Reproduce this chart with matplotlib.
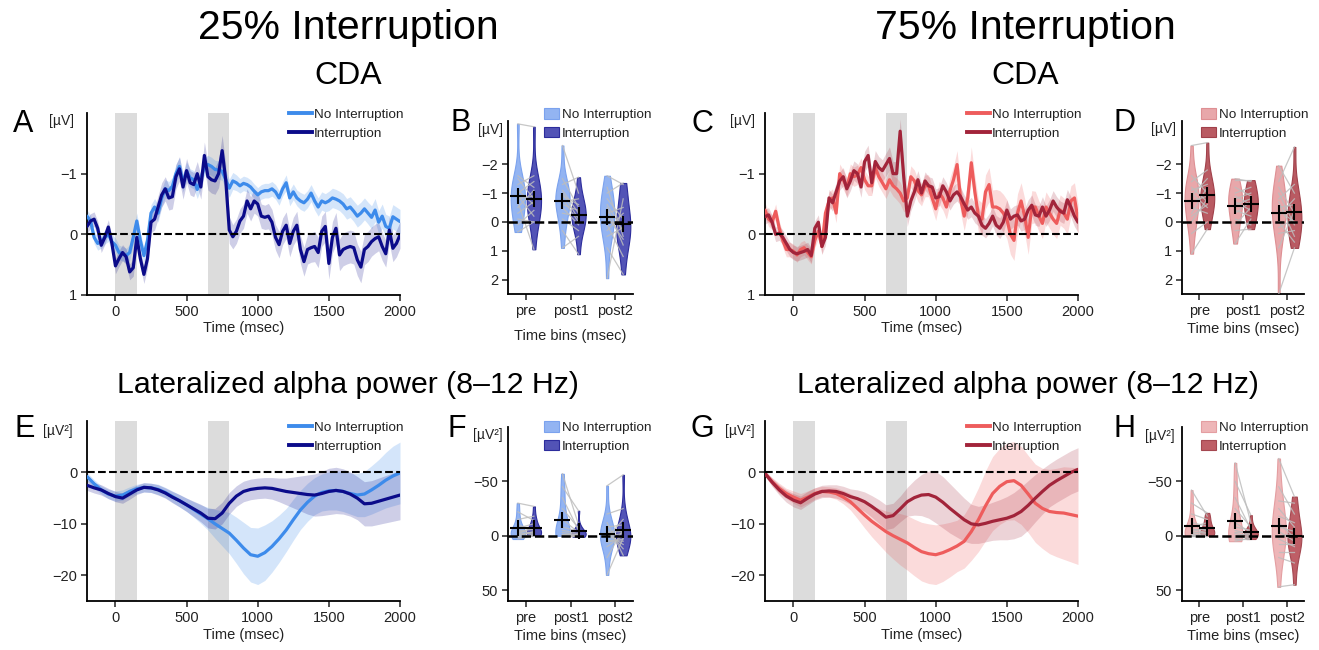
import numpy as np
import matplotlib
matplotlib.use('Agg')
import matplotlib.pyplot as plt
from matplotlib.patches import Patch
from matplotlib.lines import Line2D

plt.rcParams['font.family'] = ['Liberation Sans', 'DejaVu Sans']

# ---------------- DATA ----------------
conditions = ['No Interruption', 'Interruption']
bins = ['pre', 'post1', 'post2']

# CDA time courses, sampled every 25 ms from -200 to 2000 ms (values in µV)
cda25_no = [-0.30, -0.22, 0.05, 0.15, 0.12, 0.05, 0.00, 0.12,
            0.18, 0.30, 0.32, 0.35, 0.30, 0.05, -0.22, 0.10,
            0.35, 0.10, -0.35, -0.45, -0.35, -0.60, -0.75, -0.72,
            -0.79, -1.00, -1.12, -0.85, -1.04, -0.93, -0.90, -0.74,
            -0.90, -1.12, -1.15, -1.12, -1.07, -1.06, -1.04, -0.90,
            -0.76, -0.88, -0.85, -0.80, -0.84, -0.82, -0.78, -0.71,
            -0.65, -0.70, -0.72, -0.72, -0.75, -0.70, -0.60, -0.75,
            -0.85, -0.60, -0.70, -0.60, -0.55, -0.52, -0.58, -0.68,
            -0.55, -0.45, -0.55, -0.52, -0.55, -0.60, -0.58, -0.55,
            -0.50, -0.42, -0.45, -0.38, -0.30, -0.35, -0.42, -0.35,
            -0.28, -0.40, -0.20, -0.30, -0.13, -0.10, -0.29, -0.25,
            -0.21]
cda25_no_sem = [0.10, 0.10, 0.10, 0.11, 0.11, 0.11, 0.12, 0.12,
                0.12, 0.12, 0.12, 0.12, 0.13, 0.13, 0.13, 0.13,
                0.13, 0.13, 0.14, 0.14, 0.15, 0.15, 0.15, 0.15,
                0.15, 0.15, 0.15, 0.15, 0.15, 0.15, 0.15, 0.15,
                0.15, 0.15, 0.15, 0.15, 0.15, 0.15, 0.15, 0.15,
                0.15, 0.14, 0.13, 0.12, 0.12, 0.12, 0.12, 0.12,
                0.12, 0.12, 0.12, 0.12, 0.12, 0.12, 0.12, 0.12,
                0.13, 0.13, 0.13, 0.13, 0.14, 0.14, 0.14, 0.14,
                0.15, 0.15, 0.15, 0.15, 0.16, 0.16, 0.16, 0.16,
                0.17, 0.17, 0.17, 0.17, 0.18, 0.18, 0.18, 0.18,
                0.19, 0.19, 0.19, 0.20, 0.20, 0.20, 0.20, 0.20,
                0.20]
cda25_int = [-0.13, -0.22, -0.25, -0.10, 0.18, 0.05, -0.12, 0.15,
             0.52, 0.40, 0.30, 0.37, 0.62, 0.55, 0.05, 0.40,
             0.66, 0.40, -0.20, -0.25, -0.45, -0.65, -0.75, -0.60,
             -0.62, -0.95, -1.08, -0.78, -1.05, -0.85, -0.82, -1.00,
             -0.78, -1.30, -0.95, -0.90, -0.88, -1.00, -1.38, -0.90,
             -0.07, 0.04, -0.05, -0.22, -0.30, -0.55, -0.42, -0.55,
             -0.50, -0.30, -0.28, -0.30, -0.20, 0.05, 0.17, -0.05,
             -0.15, 0.15, -0.05, -0.15, 0.25, 0.45, 0.25, 0.22,
             0.20, 0.30, -0.05, -0.13, 0.48, 0.05, -0.10, 0.34,
             0.25, 0.22, 0.20, 0.22, 0.42, 0.54, 0.25, 0.20,
             0.12, 0.07, 0.04, 0.20, 0.32, -0.07, 0.23, 0.15,
             0.01]
cda25_int_sem = [0.12, 0.12, 0.12, 0.12, 0.12, 0.12, 0.12, 0.12,
                 0.13, 0.13, 0.13, 0.13, 0.13, 0.14, 0.14, 0.14,
                 0.15, 0.16, 0.17, 0.18, 0.19, 0.20, 0.20, 0.20,
                 0.20, 0.20, 0.20, 0.20, 0.20, 0.20, 0.20, 0.20,
                 0.20, 0.22, 0.22, 0.22, 0.22, 0.23, 0.25, 0.25,
                 0.22, 0.20, 0.20, 0.20, 0.20, 0.20, 0.20, 0.20,
                 0.20, 0.20, 0.20, 0.21, 0.21, 0.21, 0.22, 0.22,
                 0.22, 0.22, 0.23, 0.23, 0.23, 0.24, 0.24, 0.24,
                 0.25, 0.25, 0.25, 0.25, 0.26, 0.26, 0.26, 0.26,
                 0.27, 0.27, 0.27, 0.27, 0.26, 0.26, 0.25, 0.25,
                 0.24, 0.24, 0.23, 0.23, 0.22, 0.22, 0.22, 0.22,
                 0.22]

cda75_no = [-0.40, -0.25, -0.20, -0.38, -0.10, 0.10, 0.25, 0.25,
            0.28, 0.34, 0.25, 0.22, 0.30, 0.37, 0.10, -0.05,
            0.20, -0.35, -0.55, -0.60, -0.35, -1.00, -0.90, -0.78,
            -1.00, -0.95, -0.98, -1.10, -0.90, -0.80, -0.80, -1.10,
            -0.95, -0.85, -0.75, -0.90, -0.80, -0.75, -0.68, -0.55,
            -0.60, -0.95, -0.88, -0.72, -0.65, -0.80, -0.80, -0.60,
            -0.42, -0.68, -0.60, -0.45, -0.72, -0.90, -1.15, -0.58,
            -0.30, -0.60, -1.18, -0.70, -0.30, -0.25, -0.70, -0.82,
            -0.45, -0.45, -0.42, -0.35, -0.25, 0.00, 0.10, -0.35,
            -0.55, -0.30, 0.05, -0.45, -0.45, -0.30, -0.18, -0.45,
            -0.35, -0.25, -0.18, -0.40, -0.35, -0.25, -0.55, -0.60,
            -0.25]
cda75_no_sem = [0.12, 0.12, 0.12, 0.12, 0.12, 0.12, 0.12, 0.12,
                0.12, 0.12, 0.12, 0.12, 0.12, 0.12, 0.12, 0.12,
                0.13, 0.14, 0.15, 0.15, 0.16, 0.16, 0.16, 0.16,
                0.16, 0.16, 0.16, 0.16, 0.16, 0.16, 0.16, 0.16,
                0.16, 0.16, 0.16, 0.17, 0.17, 0.18, 0.18, 0.18,
                0.18, 0.18, 0.18, 0.18, 0.18, 0.18, 0.18, 0.18,
                0.19, 0.19, 0.20, 0.20, 0.21, 0.22, 0.23, 0.23,
                0.24, 0.25, 0.26, 0.26, 0.27, 0.27, 0.28, 0.28,
                0.28, 0.29, 0.30, 0.31, 0.32, 0.33, 0.33, 0.32,
                0.30, 0.29, 0.28, 0.27, 0.26, 0.25, 0.25, 0.25,
                0.25, 0.25, 0.25, 0.25, 0.25, 0.25, 0.25, 0.25,
                0.25]
cda75_int = [-0.29, -0.32, -0.20, 0.00, -0.02, 0.05, 0.15, 0.25,
             0.30, 0.32, 0.30, 0.28, 0.25, 0.35, -0.10, -0.20,
             0.20, 0.05, -0.60, -0.52, -0.70, -0.88, -0.95, -0.75,
             -0.88, -1.05, -1.00, -0.78, -1.20, -1.30, -0.85, -1.20,
             -1.10, -1.05, -1.15, -1.25, -1.00, -1.00, -1.70, -0.95,
             -0.30, -0.55, -0.70, -0.90, -0.68, -0.88, -0.80, -0.78,
             -0.60, -0.62, -0.80, -0.70, -0.55, -0.65, -0.70, -0.62,
             -0.50, -0.40, -0.45, -0.35, -0.30, -0.15, -0.10, -0.18,
             -0.30, -0.15, -0.10, -0.20, -0.40, -0.25, -0.30, -0.32,
             -0.22, -0.25, -0.40, -0.48, -0.32, -0.30, -0.45, -0.30,
             -0.40, -0.55, -0.45, -0.38, -0.35, -0.57, -0.45, -0.30,
             -0.20]
cda75_int_sem = [0.12, 0.12, 0.12, 0.12, 0.12, 0.12, 0.12, 0.12,
                 0.12, 0.12, 0.12, 0.12, 0.12, 0.12, 0.12, 0.12,
                 0.13, 0.13, 0.14, 0.14, 0.15, 0.15, 0.15, 0.15,
                 0.16, 0.16, 0.16, 0.17, 0.17, 0.17, 0.18, 0.18,
                 0.18, 0.18, 0.19, 0.19, 0.20, 0.20, 0.20, 0.19,
                 0.17, 0.16, 0.16, 0.15, 0.15, 0.15, 0.15, 0.15,
                 0.15, 0.15, 0.15, 0.15, 0.15, 0.15, 0.15, 0.15,
                 0.15, 0.15, 0.16, 0.16, 0.16, 0.16, 0.16, 0.16,
                 0.16, 0.16, 0.17, 0.17, 0.17, 0.17, 0.17, 0.17,
                 0.17, 0.17, 0.17, 0.17, 0.17, 0.17, 0.17, 0.17,
                 0.17, 0.17, 0.17, 0.17, 0.17, 0.17, 0.17, 0.17,
                 0.17]

# Lateralized alpha power, sampled every 50 ms from -200 to 2000 ms (µV²)
alpha25_no = [-0.8, -2.2, -3.4, -4.2,
              -4.6, -4.4, -3.7, -3.2, -2.9, -3.0, -3.3, -3.9, -4.7, -5.5,
              -6.3, -7.2, -8.1, -9.0, -10.0, -10.9, -11.8, -13.2, -14.7, -16.0,
              -16.3, -15.6, -14.4, -12.9, -11.2, -9.2, -7.3, -5.8, -4.6, -3.9,
              -3.6, -3.5, -3.7, -4.1, -4.4, -4.2, -3.4, -2.5, -1.5, -0.7,
              -0.1]
alpha25_no_sem = [0.8, 0.8, 0.8, 0.9,
                  1.0, 1.0, 0.9, 0.9, 0.9, 0.9, 1.0, 1.0, 1.1, 1.2,
                  1.3, 1.5, 1.8, 2.2, 2.8, 3.4, 4.0, 4.5, 5.0, 5.3,
                  5.5, 5.4, 5.0, 4.6, 4.2, 4.0, 3.8, 3.7, 3.6, 3.6,
                  3.7, 3.8, 3.9, 4.0, 4.2, 4.4, 4.7, 5.0, 5.4, 5.8,
                  6.0]
alpha25_int = [-2.5, -3.0, -3.4, -4.1,
               -4.7, -5.0, -4.2, -3.4, -2.9, -3.0, -3.4, -4.0, -4.8, -5.5,
               -6.3, -7.1, -7.9, -8.9, -9.0, -7.9, -6.0, -4.6, -3.7, -3.3,
               -3.1, -3.0, -3.1, -3.4, -3.7, -3.9, -4.1, -4.3, -4.4, -4.1,
               -3.7, -3.5, -3.7, -4.2, -5.0, -6.1, -6.0, -5.6, -5.2, -4.8,
               -4.4]
alpha25_int_sem = [1.0, 1.0, 1.0, 1.0,
                   1.0, 1.0, 1.0, 0.9, 0.9, 0.9, 1.0, 1.0, 1.1, 1.2,
                   1.3, 1.5, 1.7, 1.9, 2.0, 2.1, 2.1, 2.0, 2.0, 2.0,
                   2.0, 2.0, 2.1, 2.3, 2.6, 3.0, 3.4, 3.8, 4.1, 4.3,
                   4.5, 4.5, 4.4, 4.3, 4.2, 4.3, 4.4, 4.5, 4.6, 4.7,
                   4.8]
alpha75_no = [-0.2, -1.8, -3.1, -4.1,
              -4.8, -5.4, -4.8, -4.1, -3.7, -3.8, -4.1, -4.8, -5.7, -7.0,
              -8.3, -9.5, -10.5, -11.5, -12.3, -13.0, -13.7, -14.6, -15.4, -15.8,
              -16.0, -15.6, -15.0, -14.3, -13.4, -11.5, -9.2, -6.5, -4.1, -2.7,
              -1.8, -1.6, -2.5, -4.2, -6.0, -7.0, -7.6, -7.8, -7.9, -8.2,
              -8.5]
alpha75_no_sem = [0.5, 0.8, 1.0, 1.0,
                  1.2, 1.3, 1.2, 1.1, 1.0, 1.0, 1.1, 1.3, 1.6, 2.0,
                  2.5, 3.0, 3.5, 4.0, 4.5, 5.0, 5.3, 5.5, 5.7, 5.8,
                  5.8, 5.6, 5.3, 5.0, 5.2, 5.6, 6.2, 6.8, 7.2, 7.4,
                  7.5, 7.6, 7.6, 7.5, 7.6, 7.8, 8.2, 8.6, 9.0, 9.2,
                  9.4]
alpha75_int = [-0.2, -1.9, -3.4, -4.6,
               -5.4, -5.9, -5.0, -4.2, -3.7, -3.6, -3.7, -4.1, -4.7, -5.1,
               -5.7, -6.6, -7.6, -8.7, -8.4, -7.1, -5.7, -4.9, -4.4, -4.3,
               -4.8, -5.8, -7.0, -8.1, -9.2, -10.0, -10.2, -9.9, -9.5, -9.2,
               -8.9, -8.4, -7.6, -6.4, -5.0, -3.7, -2.5, -1.6, -0.8, 0.0,
               0.6]
alpha75_int_sem = [0.5, 0.8, 1.0, 1.2,
                   1.3, 1.3, 1.3, 1.2, 1.2, 1.2, 1.3, 1.4, 1.5, 1.7,
                   1.9, 2.1, 2.3, 2.4, 2.4, 2.5, 2.8, 3.4, 4.0, 4.6,
                   5.0, 5.0, 4.8, 4.5, 4.2, 3.8, 3.6, 3.6, 3.7, 3.9,
                   4.2, 4.5, 4.8, 4.8, 4.6, 4.4, 4.2, 4.2, 4.2, 4.2,
                   4.2]

# Per-participant bin averages (same participant order in both conditions)
cda25_pre_no = [-3.4, -1.6, -1.5, -1.3, -1.1, -1.0, -0.9, -0.8, -0.7, -0.5, -0.3, -0.1, 0.1, 0.35]
cda25_pre_int = [-3.3, -1.2, -0.8, -1.6, -0.6, -1.4, -0.2, -0.9, 0.95, -1.1, -0.7, 0.0, -0.4, 0.0]
cda25_post1_no = [-2.65, -1.5, -1.3, -1.1, -1.0, -0.9, -0.8, -0.7, -0.6, -0.5, -0.3, -0.1, 0.3, 0.9]
cda25_post1_int = [-1.0, -0.5, -1.55, -0.3, -0.1, -0.6, 0.0, -0.8, -0.4, 0.1, -0.2, 0.3, 1.12, 0.5]
cda25_post2_no = [-1.6, -1.2, -1.0, -0.8, -0.6, -0.5, -0.3, -0.2, 0.0, 0.1, 0.3, 0.5, 0.9, 1.95]
cda25_post2_int = [-1.3, 0.5, -1.35, -0.1, 0.3, 0.8, -0.5, 0.6, 0.0, 1.2, -0.3, 0.2, 1.82, -0.8]

cda75_pre_no = [-2.65, -1.6, -1.4, -1.2, -1.1, -1.0, -0.9, -0.7, -0.5, -0.3, -0.2, 0.0, 0.4, 1.1]
cda75_pre_int = [-2.75, -1.0, -1.8, -0.7, -1.3, -0.5, -1.5, -0.9, -0.3, -1.2, -0.6, -0.8, 0.0, 0.25]
cda75_post1_no = [-1.5, -1.45, -1.2, -1.0, -0.9, -0.8, -0.7, -0.6, -0.4, -0.3, -0.1, 0.1, 0.3, 0.75]
cda75_post1_int = [-1.4, -1.45, -0.9, -1.2, -0.6, -1.0, -0.4, -0.8, -0.2, -0.7, 0.1, -0.5, 0.25, -0.1]
cda75_post2_no = [-1.95, -1.4, -1.2, -1.0, -0.8, -0.7, -0.5, -0.4, -0.2, 0.0, 0.2, 0.4, 0.9, 2.5]
cda75_post2_int = [-1.0, -2.6, -0.3, 0.1, -1.3, 0.5, -0.6, 0.0, -0.8, 0.7, -0.1, 0.3, -0.4, 0.9]

alpha25_pre_no = [-30, -22, -15, -10, -7, -5, -4, -3, -2, -1, 0, 0, 1, 3]
alpha25_pre_int = [-27, -14, -18, -5, -11, -2, -6, -1, -8, -3, 0, -4, -0.5, 0]
alpha25_post1_no = [-57, -45, -35, -25, -15, -8, -5, -3, -2, -1, -1, 0, 0, 0]
alpha25_post1_int = [-10, -23, -5, -7, -3, -4, -2, -1, -2, 0, -1, 0, 1, 0]
alpha25_post2_no = [-46, -20, -12, -8, -5, -3, -1, 0, 2, 4, 6, 10, 20, 36]
alpha25_post2_int = [-56, -25, 18, -10, 12, -4, 8, -2, -15, 5, 3, 0, -6, 2]

alpha75_pre_no = [-42, -30, -20, -12, -8, -6, -4, -3, -2, -1, -1, 0, 0, 0]
alpha75_pre_int = [-18, -21, -15, -9, -12, -6, -7, -3, -5, -1, -2, 0, -0.5, 0]
alpha75_post1_no = [-67, -50, -35, -25, -12, -8, -5, -3, -2, 0, 1, 2, 3, 5]
alpha75_post1_int = [-12, -19, -6, -8, -3, -5, -1, -4, 0, -2, 1, 0, 3, 2]
alpha75_post2_no = [-71, -45, -32, -25, -18, -12, -8, -4, 0, 3, 8, 15, 20, 47]
alpha75_post2_int = [-36, -20, -30, -8, -12, 2, -4, 5, -1, 10, 8, 15, 25, 45]

t_cda = np.arange(-200, 2001, 25)
t_alpha = np.arange(-200, 2001, 50)

# ---------------- STYLE ----------------
BLUE_L, BLUE_D = '#3D8BEB', '#0B0B8A'
RED_L, RED_D = '#EE5C5C', '#A2243A'
TXT = '#222222'

W, H = 1319, 650
fig = plt.figure(figsize=(W / 100, H / 100), dpi=100)


def px_axes(l, t, r, b):
    return fig.add_axes([l / W, 1 - b / H, (r - l) / W, (b - t) / H])


def style(ax):
    for s in ['top', 'right']:
        ax.spines[s].set_visible(False)
    for s in ['left', 'bottom']:
        ax.spines[s].set_linewidth(1.3)
    ax.tick_params(direction='out', length=4, width=1.1, labelsize=10.5,
                   colors=TXT, pad=3)
    ax.patch.set_alpha(0)


def add_legend(handles, x, y, hl):
    fig.legend(handles, conditions, loc='upper left',
               bbox_to_anchor=(x / W, 1 - y / H), bbox_transform=fig.transFigure,
               frameon=False, fontsize=9.7, borderpad=0, borderaxespad=0,
               handlelength=hl, handleheight=0.85, handletextpad=0.15,
               labelspacing=0.42, labelcolor=TXT)


def ts_panel(box, t, no, no_sem, it, it_sem, c_no, c_int, ylim, yticks, leg_xy):
    ax = px_axes(*box)
    style(ax)
    ax.axvspan(0, 150, color='#DCDCDC', lw=0, zorder=0)
    ax.axvspan(650, 800, color='#DCDCDC', lw=0, zorder=0)
    no, no_sem, it, it_sem = map(np.asarray, (no, no_sem, it, it_sem))
    ax.fill_between(t, no - no_sem, no + no_sem, color=c_no, alpha=0.22, lw=0, zorder=1)
    ax.fill_between(t, it - it_sem, it + it_sem, color=c_int, alpha=0.2, lw=0, zorder=1)
    ax.plot(t, no, color=c_no, lw=2.3, zorder=3, solid_capstyle='round')
    ax.plot(t, it, color=c_int, lw=2.3, zorder=4, solid_capstyle='round')
    ax.axhline(0, color='k', ls='--', lw=1.5, zorder=5)
    ax.set_xlim(-200, 2000)
    ax.set_ylim(*ylim)
    ax.set_xticks([0, 500, 1000, 1500, 2000])
    ax.set_yticks(yticks)
    ax.set_xlabel('Time (msec)', fontsize=10.5, labelpad=2, color=TXT)
    add_legend([Line2D([], [], color=c_no, lw=2.8), Line2D([], [], color=c_int, lw=2.8)],
               leg_xy[0], leg_xy[1], 1.7)
    return ax


def violin_panel(box, no_lists, int_lists, fc_no, ec_no, fc_int, ec_int,
                 ylim, yticks, leg_xy, labelpad):
    ax = px_axes(*box)
    style(ax)
    off = 0.18
    for i, (a, b) in enumerate(zip(no_lists, int_lists)):
        for data, x, fc, ec in [(a, i - off, fc_no, ec_no), (b, i + off, fc_int, ec_int)]:
            vp = ax.violinplot([data], positions=[x], widths=0.32, showextrema=False)
            for body in vp['bodies']:
                body.set_facecolor(fc)
                body.set_edgecolor(ec)
                body.set_linewidth(0.8)
                body.set_alpha(1)
                body.set_zorder(2)
        for va, vb in zip(a, b):
            ax.plot([i - off, i + off], [va, vb], color='#BDBDBD', lw=0.9,
                    alpha=0.85, zorder=3)
    ax.axhline(0, color='k', ls='--', lw=1.8, zorder=5)
    for i, (a, b) in enumerate(zip(no_lists, int_lists)):
        ax.plot(i - off, np.mean(a), marker='+', ms=11, mew=1.5, color='k', zorder=6)
        ax.plot(i + off, np.mean(b), marker='+', ms=11, mew=1.5, color='k', zorder=6)
    ax.set_xlim(-0.4, 2.4)
    ax.set_ylim(*ylim)
    ax.set_xticks(range(3))
    ax.set_xticklabels(bins)
    ax.set_yticks(yticks)
    ax.set_xlabel('Time bins (msec)', fontsize=10.5, labelpad=labelpad, color=TXT)
    add_legend([Patch(facecolor=fc_no, edgecolor=ec_no, lw=0.8),
                Patch(facecolor=fc_int, edgecolor=ec_int, lw=0.8)],
               leg_xy[0], leg_xy[1], 1.15)
    return ax


# ---------------- PANELS ----------------
# A
ts_panel((87, 113, 400, 295), t_cda, cda25_no, cda25_no_sem, cda25_int, cda25_int_sem,
         BLUE_L, BLUE_D, (1, -2), [-1, 0, 1], (289, 108))
# C
ts_panel((765, 113, 1078, 295), t_cda, cda75_no, cda75_no_sem, cda75_int, cda75_int_sem,
         RED_L, RED_D, (1, -2), [-1, 0, 1], (967, 108))
# E
ts_panel((87, 421, 400, 601), t_alpha, alpha25_no, alpha25_no_sem, alpha25_int, alpha25_int_sem,
         BLUE_L, BLUE_D, (-25, 10), [0, -10, -20], (289, 421))
# G
ts_panel((765, 421, 1078, 601), t_alpha, alpha75_no, alpha75_no_sem, alpha75_int, alpha75_int_sem,
         RED_L, RED_D, (-25, 10), [0, -10, -20], (967, 421))

# B
violin_panel((508, 121, 633, 294),
             [cda25_pre_no, cda25_post1_no, cda25_post2_no],
             [cda25_pre_int, cda25_post1_int, cda25_post2_int],
             '#93B4F2', '#7BA2EE', '#5253B6', '#2C2C9C',
             (2.5, -3.5), [-2, -1, 0, 1, 2], (544, 108), 8)
# D
violin_panel((1182, 121, 1304, 294),
             [cda75_pre_no, cda75_post1_no, cda75_post2_no],
             [cda75_pre_int, cda75_post1_int, cda75_post2_int],
             '#E8A7AA', '#DE8F93', '#B95A62', '#A0404A',
             (2.5, -3.5), [-2, -1, 0, 1, 2], (1201, 108), 3)
# F
violin_panel((508, 427, 633, 601),
             [alpha25_pre_no, alpha25_post1_no, alpha25_post2_no],
             [alpha25_pre_int, alpha25_post1_int, alpha25_post2_int],
             '#93B4F2', '#7BA2EE', '#5253B6', '#2C2C9C',
             (60, -100), [-50, 0, 50], (544, 421), 3)
# H
violin_panel((1182, 427, 1304, 601),
             [alpha75_pre_no, alpha75_post1_no, alpha75_post2_no],
             [alpha75_pre_int, alpha75_post1_int, alpha75_post2_int],
             '#EEB6B8', '#E49EA1', '#BE5E66', '#A44750',
             (60, -100), [-50, 0, 50], (1201, 421), 3)

# ---------------- TEXT ----------------
def ftext(x, y, s, **kw):
    fig.text(x / W, 1 - y / H, s, **kw)


ftext(348, 28, '25% Interruption', fontsize=29.5, ha='center', va='center')
ftext(1025, 28, '75% Interruption', fontsize=29.5, ha='center', va='center')
ftext(348, 76, 'CDA', fontsize=23, ha='center', va='center')
ftext(1025, 76, 'CDA', fontsize=23, ha='center', va='center')
ftext(348, 385, 'Lateralized alpha power (8–12 Hz)', fontsize=21.8, ha='center', va='center')
ftext(1028, 385, 'Lateralized alpha power (8–12 Hz)', fontsize=21.8, ha='center', va='center')

for letter, x, y in [('A', 23, 124), ('B', 461, 123), ('C', 702, 124), ('D', 1124, 123),
                     ('E', 25, 429), ('F', 457, 429), ('G', 702, 429), ('H', 1124, 429)]:
    ftext(x, y, letter, fontsize=22, ha='center', va='center')

for s, x, y in [('[µV]', 74, 121), ('[µV]', 503, 130), ('[µV]', 755, 121), ('[µV]', 1176, 129),
                ('[µV²]', 73, 431), ('[µV²]', 503, 435), ('[µV²]', 755, 431), ('[µV²]', 1175, 436)]:
    ftext(x, y, s, fontsize=10, ha='right', va='center', color=TXT)

fig.savefig('out.png', dpi=100)
